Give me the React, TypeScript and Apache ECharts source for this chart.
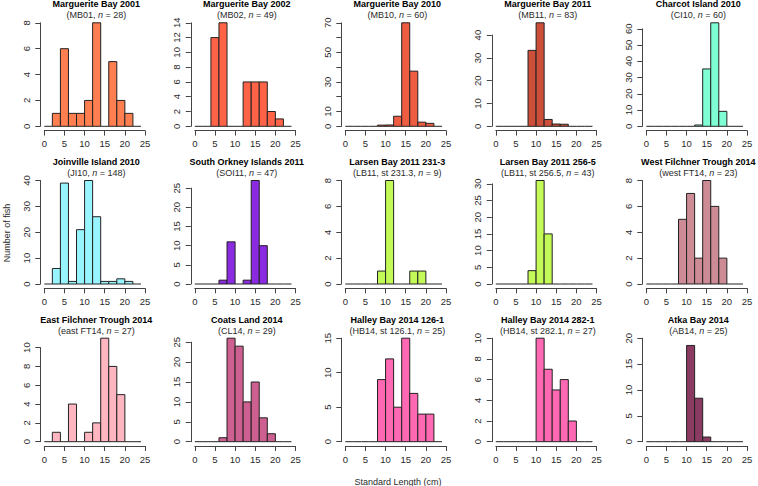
import React, { useEffect, useRef } from "react";
import * as echarts from "echarts";

// ---- data ----
const BIN_STARTS = [0, 2, 4, 6, 8, 10, 12, 14, 16, 18, 20, 22];
const BIN_WIDTH = 2;
const X_MIN = 0;
const X_MAX = 25;
const X_STEP = 5;

const TITLES = [
  "Marguerite Bay 2001",
  "Marguerite Bay 2002",
  "Marguerite Bay 2010",
  "Marguerite Bay 2011",
  "Charcot Island 2010",
  "Joinville Island 2010",
  "South Orkney Islands 2011",
  "Larsen Bay 2011 231-3",
  "Larsen Bay 2011 256-5",
  "West Filchner Trough 2014",
  "East Filchner Trough 2014",
  "Coats Land 2014",
  "Halley Bay 2014 126-1",
  "Halley Bay 2014 282-1",
  "Atka Bay 2014",
];
const SUB_CODES = [
  "MB01", "MB02", "MB10", "MB11", "CI10",
  "JI10", "SOI11", "LB11, st 231.3", "LB11, st 256.5", "west FT14",
  "east FT14", "CL14", "HB14, st 126.1", "HB14, st 282.1", "AB14",
];
const SAMPLE_N = [28, 49, 60, 83, 60, 148, 47, 9, 43, 23, 27, 29, 25, 27, 25];
const COLORS = [
  "#FF7F50", "#FF6347", "#EE5C42", "#CD4F39", "#7FFFD4",
  "#98F5FF", "#8A2BE2", "#C4FA58", "#C4FA58", "#CD8C95",
  "#FFB6C1", "#CD6090", "#FF69B4", "#FF69B4", "#8B3A62",
];

const COUNTS_MB01 = [0, 1, 6, 1, 1, 2, 8, 0, 5, 2, 1, 0];
const COUNTS_MB02 = [0, 0, 12, 14, 0, 0, 6, 6, 6, 2, 1, 0];
const COUNTS_MB10 = [0, 0, 0, 0, 0.8, 0.9, 6.8, 70, 37.3, 2.8, 2, 0];
const COUNTS_MB11 = [0, 0, 0, 0, 33.3, 45.4, 3, 1, 0.9, 0, 0, 0];
const COUNTS_CI10 = [0, 0, 0, 0, 0, 0, 0.8, 35.3, 63.7, 9.2, 0, 0];
const COUNTS_JI10 = [0, 6, 39, 1, 21, 40, 26, 1, 1, 2, 1, 0];
const COUNTS_SOI11 = [0, 0, 0, 1, 11, 0, 1, 27, 10, 0, 0, 0];
const COUNTS_LB231 = [0, 0, 0, 0, 1, 8, 0, 0, 1, 1, 0, 0];
const COUNTS_LB256 = [0, 0, 0, 0, 4, 31, 15, 0, 0, 0, 0, 0];
const COUNTS_WFT14 = [0, 0, 0, 0, 5, 7, 2, 8, 6, 2, 0, 0];
const COUNTS_EFT14 = [0, 1, 0, 4, 0, 1, 2, 11, 8, 5, 0, 0];
const COUNTS_CL14 = [0, 0, 0, 1, 26, 24, 10, 15, 6, 2, 0, 0];
const COUNTS_HB126 = [0, 0, 0, 0, 9, 12, 5, 15, 7, 4, 4, 0];
const COUNTS_HB282 = [0, 0, 0, 0, 0, 10, 7, 5, 6, 2, 0, 0];
const COUNTS_AB14 = [0, 0, 0, 0, 0, 18.6, 8.4, 0.9, 0, 0, 0, 0];

const COUNTS = [
  COUNTS_MB01, COUNTS_MB02, COUNTS_MB10, COUNTS_MB11, COUNTS_CI10,
  COUNTS_JI10, COUNTS_SOI11, COUNTS_LB231, COUNTS_LB256, COUNTS_WFT14,
  COUNTS_EFT14, COUNTS_CL14, COUNTS_HB126, COUNTS_HB282, COUNTS_AB14,
];

const Y_STEP = [2, 2, 10, 10, 10, 10, 5, 2, 5, 2, 2, 5, 5, 2, 5];
const Y_TICK_MAX = [8, 14, 70, 40, 60, 40, 25, 8, 30, 8, 10, 25, 15, 10, 20];
const Y_HIDDEN_LABELS = [[], [], [20, 40, 60], [], [], [], [], [], [], [], [], [], [], [], []];

const X_AXIS_TITLE = "Standard Length (cm)";
const Y_AXIS_TITLE = "Number of fish";

// ---- layout / style ----
const FONT = "'Liberation Sans', Arial, Helvetica, sans-serif";
const COL_X0 = 44.3;
const COL_PITCH = 150.5;
const ROW_Y0 = 126.3;
const ROW_PITCH = 157.7;
const X_SPAN = 100.7;
const Y_SPAN = 103.5;
const AXIS_COLOR = "#444";
const TEXT_COLOR = "#2a2a2a";
const BAR_STROKE = "#222";

function buildOption() {
  const grids: any[] = [];
  const xAxes: any[] = [];
  const yAxes: any[] = [];
  const series: any[] = [];
  const graphics: any[] = [];

  TITLES.forEach((title, i) => {
    const col = i % 5;
    const row = Math.floor(i / 5);
    const x0 = COL_X0 + col * COL_PITCH;
    const y0 = ROW_Y0 + row * ROW_PITCH;
    const counts = COUNTS[i];
    const ylim = Math.max(Y_TICK_MAX[i], ...counts);
    const h = (Y_SPAN * Y_TICK_MAX[i]) / ylim;
    const color = COLORS[i];
    const hidden = Y_HIDDEN_LABELS[i];

    grids.push({ left: x0, top: y0 - h, width: X_SPAN, height: h, outerBoundsMode: "none" });

    xAxes.push({
      type: "value",
      gridIndex: i,
      min: X_MIN,
      max: X_MAX,
      interval: X_STEP,
      offset: 4.3,
      axisLine: { show: true, onZero: false, lineStyle: { color: AXIS_COLOR, width: 1 } },
      axisTick: { show: true, length: 5, lineStyle: { color: AXIS_COLOR, width: 1 } },
      axisLabel: { fontSize: 9.5, color: TEXT_COLOR, margin: 8, fontFamily: FONT },
      splitLine: { show: false },
    });

    yAxes.push({
      type: "value",
      gridIndex: i,
      min: 0,
      max: Y_TICK_MAX[i],
      interval: Y_STEP[i],
      offset: 4,
      axisLine: { show: true, onZero: false, lineStyle: { color: AXIS_COLOR, width: 1 } },
      axisTick: { show: true, length: 5, lineStyle: { color: AXIS_COLOR, width: 1 } },
      axisLabel: {
        rotate: 90,
        fontSize: 9.5,
        color: TEXT_COLOR,
        margin: 9,
        fontFamily: FONT,
        formatter: (v: number) => (hidden.indexOf(v) >= 0 ? "" : String(v)),
      },
      splitLine: { show: false },
    });

    series.push({
      type: "custom",
      xAxisIndex: i,
      yAxisIndex: i,
      clip: false,
      data: BIN_STARTS.map((s, k) => [s, s + BIN_WIDTH, counts[k]]),
      encode: { x: [0, 1], y: 2 },
      renderItem: (params: any, api: any) => {
        const start = api.value(0);
        const end = api.value(1);
        const v = api.value(2);
        const p1 = api.coord([start, v]);
        const p2 = api.coord([end, 0]);
        if (v === 0) {
          return {
            type: "line",
            shape: { x1: p1[0], y1: p2[1], x2: p2[0], y2: p2[1] },
            style: { stroke: BAR_STROKE, lineWidth: 1 },
          };
        }
        return {
          type: "rect",
          shape: { x: p1[0], y: p1[1], width: p2[0] - p1[0], height: p2[1] - p1[1] },
          style: { fill: color, stroke: BAR_STROKE, lineWidth: 1 },
        };
      },
    });

    const cx = x0 + 52;
    graphics.push({
      type: "text",
      x: cx,
      y: y0 - 122,
      style: {
        text: title,
        fontSize: 9,
        fontWeight: "bold",
        fontFamily: FONT,
        fill: "#000",
        align: "center",
        verticalAlign: "middle",
        textAlign: "center",
        textVerticalAlign: "middle",
      },
    });
    graphics.push({
      type: "text",
      x: cx,
      y: y0 - 111,
      style: {
        text: `(${SUB_CODES[i]}, {i|n} = ${SAMPLE_N[i]})`,
        rich: { i: { fontStyle: "italic", fontSize: 9, fontFamily: FONT, fill: TEXT_COLOR } },
        fontSize: 9,
        fontFamily: FONT,
        fill: TEXT_COLOR,
        align: "center",
        verticalAlign: "middle",
        textAlign: "center",
        textVerticalAlign: "middle",
      },
    });
  });

  graphics.push({
    type: "text",
    x: 398,
    y: 481.5,
    style: {
      text: X_AXIS_TITLE,
      fontSize: 9,
      fontFamily: FONT,
      fill: TEXT_COLOR,
      align: "center",
      verticalAlign: "middle",
      textAlign: "center",
      textVerticalAlign: "middle",
    },
  });
  graphics.push({
    type: "text",
    x: 7,
    y: 233,
    rotation: Math.PI / 2,
    style: {
      text: Y_AXIS_TITLE,
      fontSize: 9,
      fontFamily: FONT,
      fill: TEXT_COLOR,
      align: "center",
      verticalAlign: "middle",
      textAlign: "center",
      textVerticalAlign: "middle",
    },
  });

  return {
    animation: false,
    backgroundColor: "#fff",
    grid: grids,
    xAxis: xAxes,
    yAxis: yAxes,
    series,
    graphic: graphics,
  };
}

export default function App() {
  const ref = useRef<HTMLDivElement>(null);
  useEffect(() => {
    if (!ref.current) return;
    const chart = echarts.init(ref.current, null, { renderer: "svg" });
    chart.setOption(buildOption() as any);
    return () => chart.dispose();
  }, []);
  return (
    <div
      ref={ref}
      style={{ position: "absolute", left: 0, top: 0, width: 758, height: 486 }}
    />
  );
}
